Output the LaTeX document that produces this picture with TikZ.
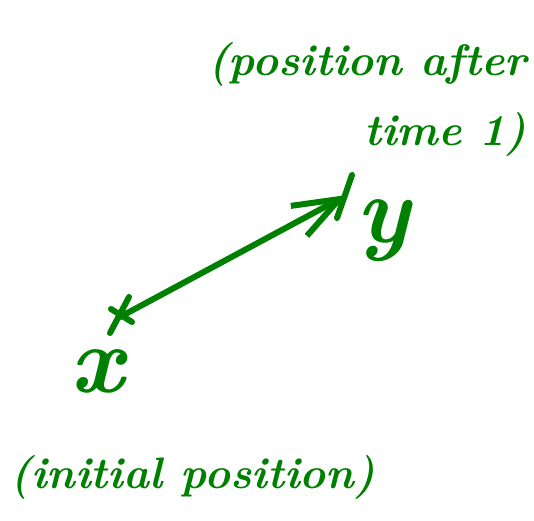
\documentclass[tikz,border=0pt]{standalone}
\usetikzlibrary{arrows.meta, positioning}
\definecolor{handgreen}{RGB}{0,128,0}

\begin{document}
\begin{tikzpicture}[
    x=1pt, y=-1pt,
    note/.style={text=handgreen, font=\fontsize{44}{70}\selectfont\bfseries\itshape, inner sep=0pt},
    var/.style={text=handgreen, font=\fontsize{95}{95}\selectfont\bfseries\itshape, inner sep=0pt},
    tick/.style={draw=handgreen, line width=6pt, line cap=round},
    move/.style={draw=handgreen, line width=6pt, line cap=round, -{Straight Barb[length=46pt, width=34pt]}}
]
\useasboundingbox (0,0) rectangle (534,520);

% Start and end of the motion
\coordinate (start) at (118,318);
\coordinate (finish) at (347,195);

% Crosses marking the two points
\draw[tick] (start) +(11,-21) -- +(-8,15);
\draw[tick] (start) +(-7,-9) -- +(14,4);
\draw[tick] (finish) +(5,-20) -- +(-10,23);

% Displacement arrow
\draw[move] (start) -- (finish);

% Point labels
\node[var, anchor=base] (ylab) at (383,242) {y};
\node[var, anchor=base] (xlab) at (97,392) {x};

% Descriptions
\node[note, align=right, anchor=north east] (after) at (527,42) {(position after\\time 1)};
\node[note, anchor=base west] (initial) at (10,488) {(initial position)};

\end{tikzpicture}
\end{document}
